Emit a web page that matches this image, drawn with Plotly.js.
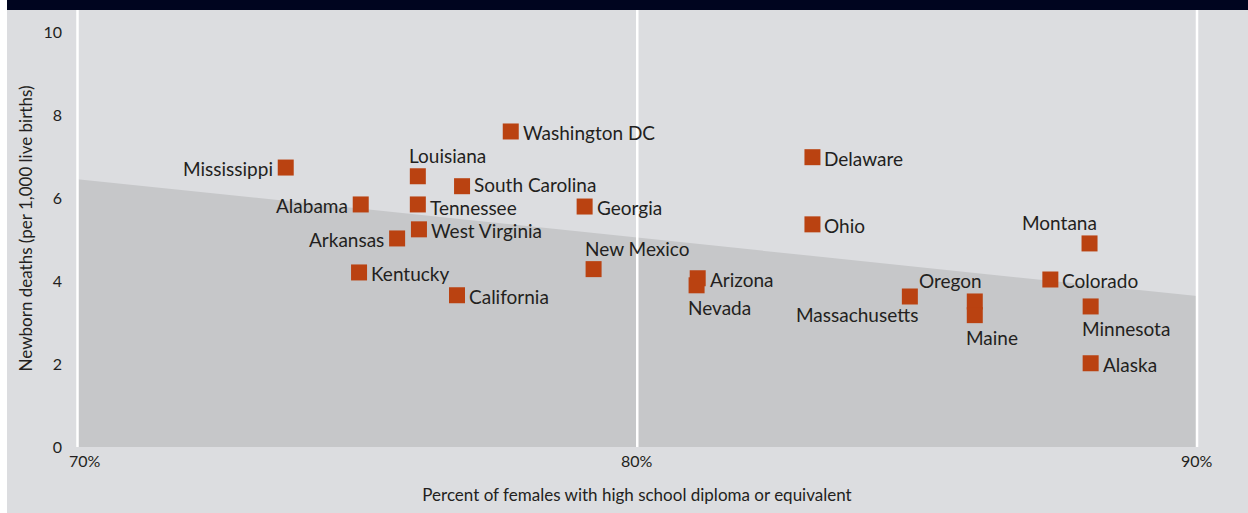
<!DOCTYPE html>
<html>
<head>
<meta charset="utf-8">
<script src="https://cdn.plot.ly/plotly-3.0.1.min.js"></script>
<style>
  html, body { margin: 0; padding: 0; background: #ffffff; }
  #chart { width: 1248px; height: 513px; }
</style>
</head>
<body>
<div id="chart"></div>
<script>
// ---- Data ----
const states = ["Mississippi", "Alabama", "Arkansas", "Kentucky", "Louisiana", "Tennessee",
  "West Virginia", "South Carolina", "Washington DC", "California", "Georgia", "New Mexico",
  "Arizona", "Nevada", "Delaware", "Ohio", "Montana", "Colorado", "Massachusetts", "Oregon",
  "Maine", "Minnesota", "Alaska"];
const femaleHSPercent = [73.72, 75.06, 75.71, 75.03, 76.08, 76.08,
  76.10, 76.87, 77.74, 76.78, 79.06, 79.22,
  81.08, 81.06, 83.13, 83.13, 88.08, 87.38, 84.87, 86.03,
  86.03, 88.10, 88.10];
const newbornDeaths = [6.74, 5.85, 5.03, 4.21, 6.53, 5.85,
  5.25, 6.29, 7.61, 3.66, 5.80, 4.29,
  4.07, 3.90, 6.99, 5.37, 4.91, 4.04, 3.63, 3.51,
  3.18, 3.39, 2.02];
// trend band (shaded area)
const trendX = [70, 90];
const trendY = [6.46, 3.64];
// axis ticks
const xTickVals = [70, 80, 90];
const xTickLabels = ["70%", "80%", "90%"];
const yTickVals = [0, 2, 4, 6, 8, 10];

// ---- Label placement (style, not data) ----
const labelPos = ["L", "L", "L", "R", "TL", "R",
  "R", "R", "R", "R", "R", "TL",
  "R", "BL", "R", "R", "TR", "R", "BR", "TR",
  "BL", "BL", "R"];
const labelNudgeY = [0, 0, 0, 0, 0, -2,
  0, 3, 0, 0, 0, 0,
  0, 0, 0, 0, 0, 0, 0, 0,
  0, 0, 0];
const xTickLabelShift = [7, 0, 0];

const textColor = "#231f20";
const fontFam = "Lato, 'Open Sans', sans-serif";

const annotations = states.map((s, i) => {
  const p = labelPos[i];
  const a = {
    x: femaleHSPercent[i], y: newbornDeaths[i], xref: "x", yref: "y",
    text: s, showarrow: false, borderpad: 0,
    font: { family: fontFam, size: 19, color: textColor },
    yanchor: "middle"
  };
  if (p === "L") { a.xanchor = "right"; a.xshift = -12; a.yshift = -1; }
  else if (p === "R") { a.xanchor = "left"; a.xshift = 11; a.yshift = -1; }
  else if (p === "TL") { a.xanchor = "left"; a.xshift = -10; a.yshift = 21; }
  else if (p === "TR") { a.xanchor = "right"; a.xshift = 8; a.yshift = 21; }
  else if (p === "BL") { a.xanchor = "left"; a.xshift = -10; a.yshift = -22; }
  else if (p === "BR") { a.xanchor = "right"; a.xshift = 9; a.yshift = -18; }
  a.yshift += labelNudgeY[i];
  return a;
});

// x tick labels, placed at the tick values through the x scale
xTickVals.forEach((v, i) => annotations.push({
  x: v, xref: "x", y: 0, yref: "paper", yanchor: "top", xanchor: "center",
  yshift: -3, xshift: xTickLabelShift[i], borderpad: 0,
  text: xTickLabels[i], showarrow: false,
  font: { family: fontFam, size: 16, color: textColor }
}));

const L = 75, R = 49, T = 10, B = 66;
const W = 1248 - L - R, H = 513 - T - B;

const shapes = [
  // navy bar on top
  { type: "rect", xref: "paper", yref: "paper",
    x0: -(L - 7) / W, x1: 1 + R / W, y0: 1, y1: 1 + T / H,
    fillcolor: "#00051f", line: { width: 0 } },
  // white strip on the left
  { type: "rect", xref: "paper", yref: "paper",
    x0: -L / W, x1: -(L - 7) / W, y0: -B / H, y1: 1 + T / H,
    fillcolor: "#ffffff", line: { width: 0 } }
];
// white vertical gridlines drawn above the shaded band
xTickVals.forEach(v => shapes.push({
  type: "line", xref: "x", yref: "paper", x0: v, x1: v, y0: 0, y1: 1,
  line: { color: "#ffffff", width: 2.5 }, layer: "above"
}));

const traces = [
  {
    x: trendX, y: trendY, type: "scatter", mode: "lines",
    line: { width: 0, color: "#c6c7c9" }, fill: "tozeroy", fillcolor: "#c6c7c9",
    hoverinfo: "skip", showlegend: false
  },
  {
    x: femaleHSPercent, y: newbornDeaths, text: states, type: "scatter", mode: "markers",
    marker: { symbol: "square", size: 16, color: "#ba4211", line: { width: 0 } },
    showlegend: false, hoverinfo: "text"
  }
];

const layout = {
  width: 1248, height: 513,
  margin: { l: L, r: R, t: T, b: B, pad: 0 },
  paper_bgcolor: "#dcdde0",
  plot_bgcolor: "#dcdde0",
  font: { family: fontFam, color: textColor },
  showlegend: false,
  xaxis: {
    range: [70 - 2.5 / 55.975, 90 + 2 / 55.975],
    tickvals: xTickVals,
    showticklabels: false,
    showgrid: false, zeroline: false, showline: false, ticks: "",
    title: { text: "Percent of females with high school diploma or equivalent",
      font: { family: fontFam, size: 17, color: textColor }, standoff: 42 },
    fixedrange: true
  },
  yaxis: {
    range: [0, 10.54],
    tickvals: yTickVals,
    showgrid: false, zeroline: false, showline: false, ticks: "",
    ticklabelstandoff: 12,
    tickfont: { family: fontFam, size: 16, color: textColor },
    title: { text: "Newborn deaths (per 1,000 live births)",
      font: { family: fontFam, size: 17, color: textColor }, standoff: 6 },
    fixedrange: true
  },
  shapes: shapes,
  annotations: annotations
};

Plotly.newPlot("chart", traces, layout, { displayModeBar: false, staticPlot: true });
</script>
</body>
</html>
